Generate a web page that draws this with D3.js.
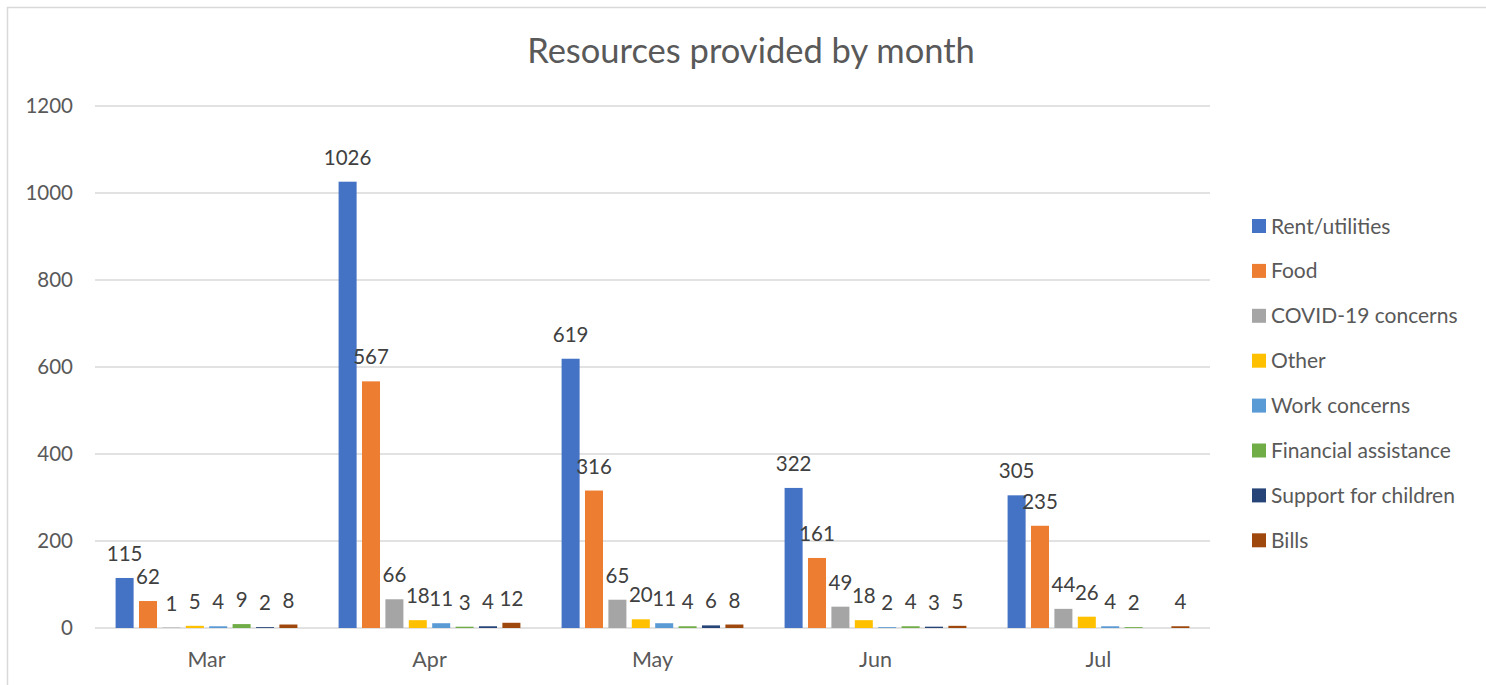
<!DOCTYPE html>
<html>
<head>
<meta charset="utf-8">
<script src="https://cdn.jsdelivr.net/npm/d3@7"></script>
<style>
  body { margin: 0; background: #fff; }
  svg { display: block; font-family: Lato, "Open Sans", sans-serif; }
</style>
</head>
<body>
<div id="chart"></div>
<script>
// data
const months = ["Mar", "Apr", "May", "Jun", "Jul"];
const series = ["Rent/utilities", "Food", "COVID-19 concerns", "Other", "Work concerns",
  "Financial assistance", "Support for children", "Bills"];
const rentUtilities = [115, 1026, 619, 322, 305];
const food = [62, 567, 316, 161, 235];
const covidConcerns = [1, 66, 65, 49, 44];
const other = [5, 18, 20, 18, 26];
const workConcerns = [4, 11, 11, 2, 4];
const financialAssistance = [9, 3, 4, 4, 2];
const supportForChildren = [2, 4, 6, 3, null];
const bills = [8, 12, 8, 5, 4];
const yTicks = [0, 200, 400, 600, 800, 1000, 1200];

const values = [rentUtilities, food, covidConcerns, other, workConcerns,
  financialAssistance, supportForChildren, bills];
const colors = ["#4472C4", "#ED7D31", "#A5A5A5", "#FFC000", "#5B9BD5", "#70AD47", "#264478", "#9E480E"];

const width = 1486, height = 685;
const svg = d3.select("#chart").append("svg")
  .attr("width", width)
  .attr("height", height);

//chart frame
svg.append("rect")
  .attr("x", 7.5).attr("y", 7.5)
  .attr("width", width - 2).attr("height", height)
  .attr("fill", "#fff")
  .attr("stroke", "#d9d9d9")
  .attr("stroke-width", 1.5);

//title
svg.append("text")
  .attr("x", 751).attr("y", 63)
  .attr("text-anchor", "middle")
  .attr("fill", "#595959")
  .style("font-size", "34.5px")
  .text("Resources provided by month");

//scales
const x = d3.scaleBand().domain(months).range([95, 1210]);
const xInner = d3.scaleBand().domain(series).range([0, x.bandwidth()])
  .paddingInner(0.23).paddingOuter(0.88);
const y = d3.scaleLinear().domain([0, 1200]).range([628, 106]);

//gridlines
svg.append("g").selectAll("line").data(yTicks).join("line")
  .attr("x1", 95).attr("x2", 1210)
  .attr("y1", d => y(d)).attr("y2", d => y(d))
  .attr("stroke", "#d9d9d9")
  .attr("stroke-width", 1.3);

//y axis labels
const yAxis = d3.axisLeft(y).tickValues(yTicks).tickFormat(d3.format("d"))
  .tickSize(0).tickPadding(22);
const yg = svg.append("g").attr("transform", "translate(95,0)").call(yAxis);
yg.select(".domain").remove();
yg.selectAll("text").attr("fill", "#595959").style("font-size", "20.5px")
  .style("font-family", "Lato, sans-serif");

//x axis labels
const xAxis = d3.axisBottom(x).tickSize(0).tickPadding(24);
const xg = svg.append("g").attr("transform", "translate(0,628)").call(xAxis);
xg.select(".domain").remove();
xg.selectAll("text").attr("fill", "#595959").style("font-size", "21.5px")
  .style("font-family", "Lato, sans-serif");

//bars and labels
const flat = [];
series.forEach((s, si) => {
  months.forEach((m, mi) => {
    if (values[si][mi] != null) flat.push({ s, si, m, v: values[si][mi] });
  });
});

svg.append("g").selectAll("rect").data(flat).join("rect")
  .attr("x", d => x(d.m) + xInner(d.s))
  .attr("width", xInner.bandwidth())
  .attr("y", d => y(d.v))
  .attr("height", d => y(0) - y(d.v))
  .attr("fill", d => colors[d.si]);

svg.append("g").selectAll("text").data(flat).join("text")
  .attr("x", d => x(d.m) + xInner(d.s) + xInner.bandwidth() / 2)
  .attr("y", d => y(d.v) - 17)
  .attr("text-anchor", "middle")
  .attr("fill", "#404040")
  .style("font-size", "20.5px")
  .text(d => d.v);

//legend
const legend = svg.append("g").attr("transform", "translate(1252,226)");
const item = legend.selectAll("g").data(series).join("g")
  .attr("transform", (d, i) => `translate(0,${i * 44.9})`);
item.append("rect")
  .attr("x", 0).attr("y", -7)
  .attr("width", 14).attr("height", 14)
  .attr("fill", (d, i) => colors[i]);
item.append("text")
  .attr("x", 19).attr("y", 7.5)
  .attr("fill", "#595959")
  .style("font-size", "21px")
  .text(d => d);
</script>
</body>
</html>
